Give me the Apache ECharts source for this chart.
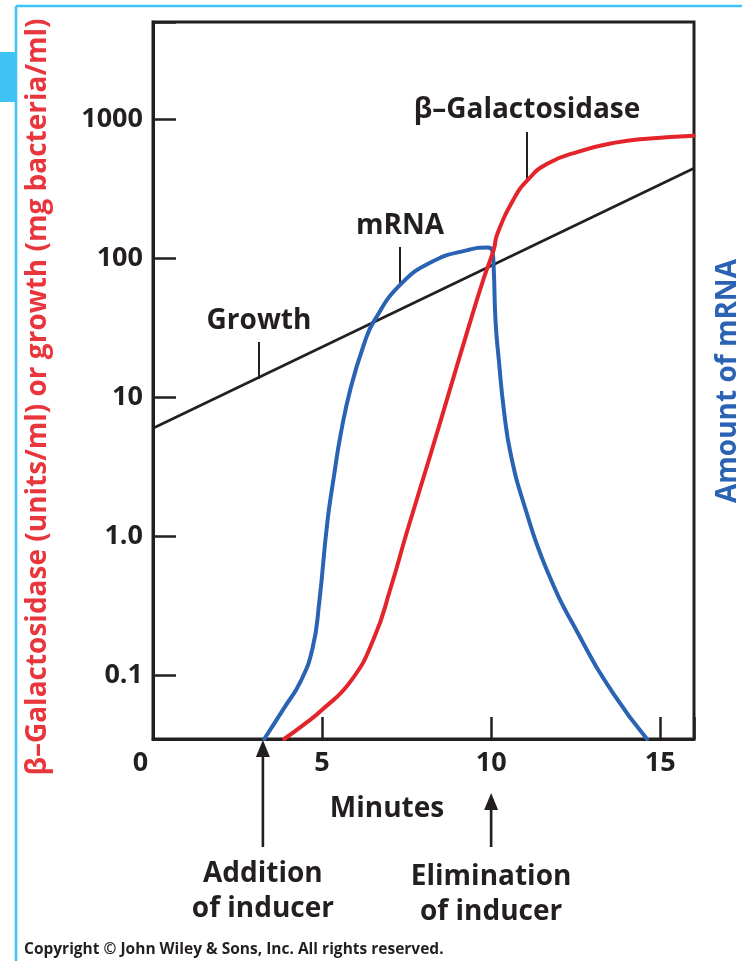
<!DOCTYPE html>
<html>
<head>
<meta charset="utf-8">
<script src="https://cdn.jsdelivr.net/npm/echarts@6.0.0/dist/echarts.min.js"></script>
<style>
html,body{margin:0;padding:0;background:#fff;}
#chart{width:742px;height:961px;}
</style>
</head>
<body>
<div id="chart"></div>
<script>
// ---- data ----
const growthX = [0, 16];
const growthY = [6, 444];

const mrnaX = [3.29, 3.88, 4.37, 4.72, 4.91, 5.16, 5.36, 5.55, 5.85, 6.24, 6.54, 7.33, 8.31, 9.30, 9.89, 10.04, 10.08, 10.13, 10.23, 10.38, 10.58, 10.97, 11.66, 12.64, 13.63, 14.61];
const mrnaY = [0.035, 0.0586, 0.0912, 0.158, 0.325, 1.29, 2.80, 5.43, 11.8, 24.1, 35.5, 65.2, 96, 114.5, 119.6, 113, 81, 35.5, 18.3, 8.0, 3.9, 1.71, 0.565, 0.187, 0.0733, 0.035];

const galX = [3.88, 4.47, 4.96, 5.85, 6.54, 7.03, 7.52, 8.21, 8.80, 9.30, 9.79, 10.08, 10.18, 10.67, 11.07, 11.66, 12.64, 13.63, 14.61, 15.99];
const galY = [0.035, 0.0446, 0.0556, 0.0912, 0.187, 0.428, 1.10, 3.9, 11.8, 30.1, 72.8, 116, 149, 267, 363, 479, 590, 676, 725, 761];

const yTickLabels = {'-1': '0.1', '0': '1.0', '1': '10', '2': '100', '3': '1000'};
const xTickLabels = {0: '0', 5: '5', 10: '10', 15: '15'};

const additionX = 3.25;
const eliminationX = 10;

const yTitle = 'β–Galactosidase (units/ml) or growth (mg bacteria/ml)';
const y2Title = 'Amount of mRNA';
const xTitle = 'Minutes';
const labelGrowth = 'Growth';
const labelMrna = 'mRNA';
const labelGal = 'β–Galactosidase';
const copyright = 'Copyright © John Wiley & Sons, Inc. All rights reserved.';

// ---- chart ----
const INK = '#231f20';
const RED = '#e3242b';
const BLUE = '#2a63b4';
const TRED = '#e8363c';
const CYAN = '#3fc3f3';
const FONT = '"Open Sans", "DejaVu Sans", sans-serif';

const zip = (xs, ys) => xs.map((x, i) => [x, ys[i]]);

const chart = echarts.init(document.getElementById('chart'), null, {renderer: 'canvas'});

const option = {
  animation: false,
  backgroundColor: '#fff',
  grid: {
    left: 153, right: 48, top: 22, bottom: 222,
    show: true, borderColor: INK, borderWidth: 3, backgroundColor: 'transparent',
    containLabel: false, outerBoundsMode: 'none'
  },
  xAxis: {
    type: 'value', min: 0, max: 16, interval: 5,
    axisLine: {show: true, onZero: false, lineStyle: {color: INK, width: 3}},
    axisTick: {show: true, inside: true, length: 22, lineStyle: {color: INK, width: 2.5}},
    splitLine: {show: false},
    axisLabel: {
      margin: 9, color: INK, fontFamily: FONT, fontWeight: 'bold', fontSize: 27, lineHeight: 30,
      formatter: v => {
        const t = xTickLabels[Math.round(v * 1000) / 1000];
        if (t === undefined) return '';
        return v === 0 ? '{z|' + t + '}' : t;
      },
      rich: {z: {color: INK, fontFamily: FONT, fontWeight: 'bold', fontSize: 27, lineHeight: 30, padding: [0, 25, 0, 0]}}
    }
  },
  yAxis: {
    type: 'log', logBase: 10, min: 0.035, max: 5000,
    axisLine: {show: true, onZero: false, lineStyle: {color: INK, width: 3}},
    axisTick: {show: true, inside: true, length: 23, lineStyle: {color: INK, width: 2.5}},
    splitLine: {show: false},
    minorTick: {show: false},
    axisLabel: {
      margin: 10, color: INK, fontFamily: FONT, fontWeight: 'bold', fontSize: 27,
      formatter: v => {
        const e = Math.log10(v);
        if (Math.abs(e - Math.round(e)) > 1e-6) return '';
        const t = yTickLabels[String(Math.round(e))];
        return t === undefined ? '' : t;
      }
    }
  },
  series: [
    {
      name: 'Growth', type: 'line', data: zip(growthX, growthY), smooth: false,
      showSymbol: false, symbol: 'none', lineStyle: {color: INK, width: 2.6}, z: 3
    },
    {
      name: 'mRNA', type: 'line', data: zip(mrnaX, mrnaY), smooth: 0.5,
      showSymbol: false, symbol: 'none', lineStyle: {color: BLUE, width: 4, cap: 'round', join: 'round'}, z: 4
    },
    {
      name: 'β-Galactosidase', type: 'line', data: zip(galX, galY), smooth: 0.5,
      showSymbol: false, symbol: 'none', lineStyle: {color: RED, width: 4, cap: 'round', join: 'round'}, z: 5
    }
  ]
};
chart.setOption(option);

// ---- annotations positioned through the chart's own scales ----
const px = (x, y) => chart.convertToPixel({gridIndex: 0}, [x, y]);
const axisBottom = px(0, 0.035)[1];
const ax1 = px(additionX, 1)[0];
const ax2 = px(eliminationX, 1)[0];

const txt = (x, y, s, opts) => Object.assign({
  type: 'text', x: x, y: y,
  style: Object.assign({text: s, fill: INK, font: 'bold 28px ' + FONT, align: 'center', verticalAlign: 'middle'}, opts || {})
});
const seg = (x1, y1, x2, y2, w, c) => ({
  type: 'line', shape: {x1: x1, y1: y1, x2: x2, y2: y2},
  style: {stroke: c || INK, lineWidth: w || 2}
});
const arrowHead = (x, tipY) => ({
  type: 'polygon', shape: {points: [[x, tipY], [x - 7, tipY + 17], [x + 7, tipY + 17]]},
  style: {fill: INK}
});

const graphics = [
  // frame decoration
  seg(16, 6, 742, 6, 2.5, CYAN),
  seg(16, 6, 16, 961, 2.5, CYAN),
  {type: 'rect', shape: {x: 0, y: 52, width: 17, height: 50}, style: {fill: CYAN}},
  // axis titles
  {type: 'text', x: 38, y: 397, rotation: Math.PI / 2,
    style: {text: yTitle, fill: TRED, font: 'bold 28px ' + FONT, align: 'center', verticalAlign: 'middle'}},
  {type: 'text', x: 728, y: 381, rotation: Math.PI / 2,
    style: {text: y2Title, fill: BLUE, font: 'bold 28px ' + FONT, align: 'center', verticalAlign: 'middle'}},
  txt(387, 809, xTitle),
  // curve labels with leaders
  txt(259, 321, labelGrowth),
  seg(259, 342, 259, 379, 2),
  txt(400, 226, labelMrna),
  seg(400, 247, 400, 284, 2),
  txt(527, 110, labelGal),
  seg(527, 132, 527, 180, 2),
  // inducer arrows
  seg(ax1, axisBottom + 14, ax1, 847, 2.6),
  arrowHead(ax1, axisBottom + 1),
  seg(ax2, 806, ax2, 847, 2.6),
  arrowHead(ax2, 793),
  txt(ax1, 874, 'Addition'),
  txt(ax1, 909, 'of inducer'),
  txt(ax2, 877, 'Elimination'),
  txt(ax2, 912, 'of inducer'),
  // copyright
  {type: 'text', x: 24, y: 950,
    style: {text: copyright, fill: INK, font: 'bold 15.5px ' + FONT, align: 'left', verticalAlign: 'middle'}}
];
chart.setOption({graphic: {elements: graphics}});
</script>
</body>
</html>
